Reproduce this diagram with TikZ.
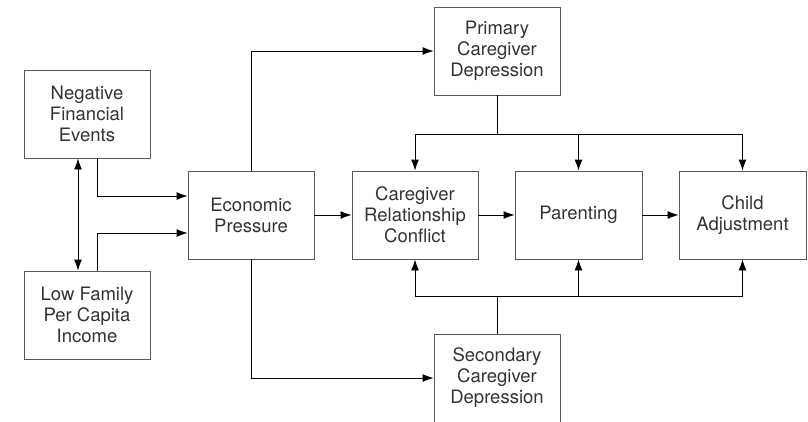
\documentclass[tikz,border=0pt]{standalone}
\usepackage{fontspec}
\setmainfont{TeX Gyre Heros}
\usetikzlibrary{calc,arrows.meta}

\tikzset{
  box/.style={draw=black!65, line width=0.9pt, minimum width=126pt, minimum height=88pt,
    align=center, text=black!80, font=\fontsize{18.5}{21}\selectfont, inner sep=0pt},
  link/.style={draw=black, line width=0.9pt}
}

\begin{document}
\begin{tikzpicture}[x=1pt,y=-1pt,>={Latex[length=11pt,width=8pt]}]

% Fix the page to the picture size
\useasboundingbox (0,0) rectangle (808,421);

% Boxes
\node[box] (nfe) at (87,114) {Negative\\Financial\\Events};
\node[box] (lfi) at (87,315) {Low Family\\Per Capita\\Income};
\node[box] (ep) at (251,215) {Economic\\Pressure};
\node[box] (pcd) at (497,51) {Primary\\Caregiver\\Depression};
\node[box] (crc) at (415,215) {Caregiver\\Relationship\\Conflict};
\node[box, minimum width=127pt] (par) at (578.5,215) {Parenting};
\node[box, minimum width=127pt] (ca) at (742.5,215) {Child\\Adjustment};
\node[box] (scd) at (497,378) {Secondary\\Caregiver\\Depression};

% Correlation between the two sources
\draw[link,<->] ([xshift=-9pt]nfe.south) -- ([xshift=-9pt]lfi.north);

% Into economic pressure
\draw[link,->] ([xshift=10pt]nfe.south) |- ([yshift=19pt]ep.west);
\draw[link,->] ([xshift=10pt]lfi.north) |- ([yshift=-18pt]ep.west);

% Out of economic pressure
\draw[link,->] (ep.north) |- (pcd.west);
\draw[link,->] (ep.south) |- (scd.west);

% Main chain
\draw[link,->] (ep) -- (crc);
\draw[link,->] (crc) -- (par);
\draw[link,->] (par) -- (ca);

% Depression feeds every box in the chain
\coordinate (top) at (497,134);
\coordinate (bot) at (497,296);
\draw[link] (pcd.south) -- (top);
\draw[link] (scd.north) -- (bot);
\draw[link] (crc.north |- top) -- (ca.north |- top);
\draw[link] (crc.south |- bot) -- (ca.south |- bot);
\foreach \n in {crc,par,ca}
  \draw[link,->] (\n.north |- top) -- (\n.north);
\foreach \n in {crc,par,ca}
  \draw[link,->] (\n.south |- bot) -- (\n.south);

\end{tikzpicture}
\end{document}
